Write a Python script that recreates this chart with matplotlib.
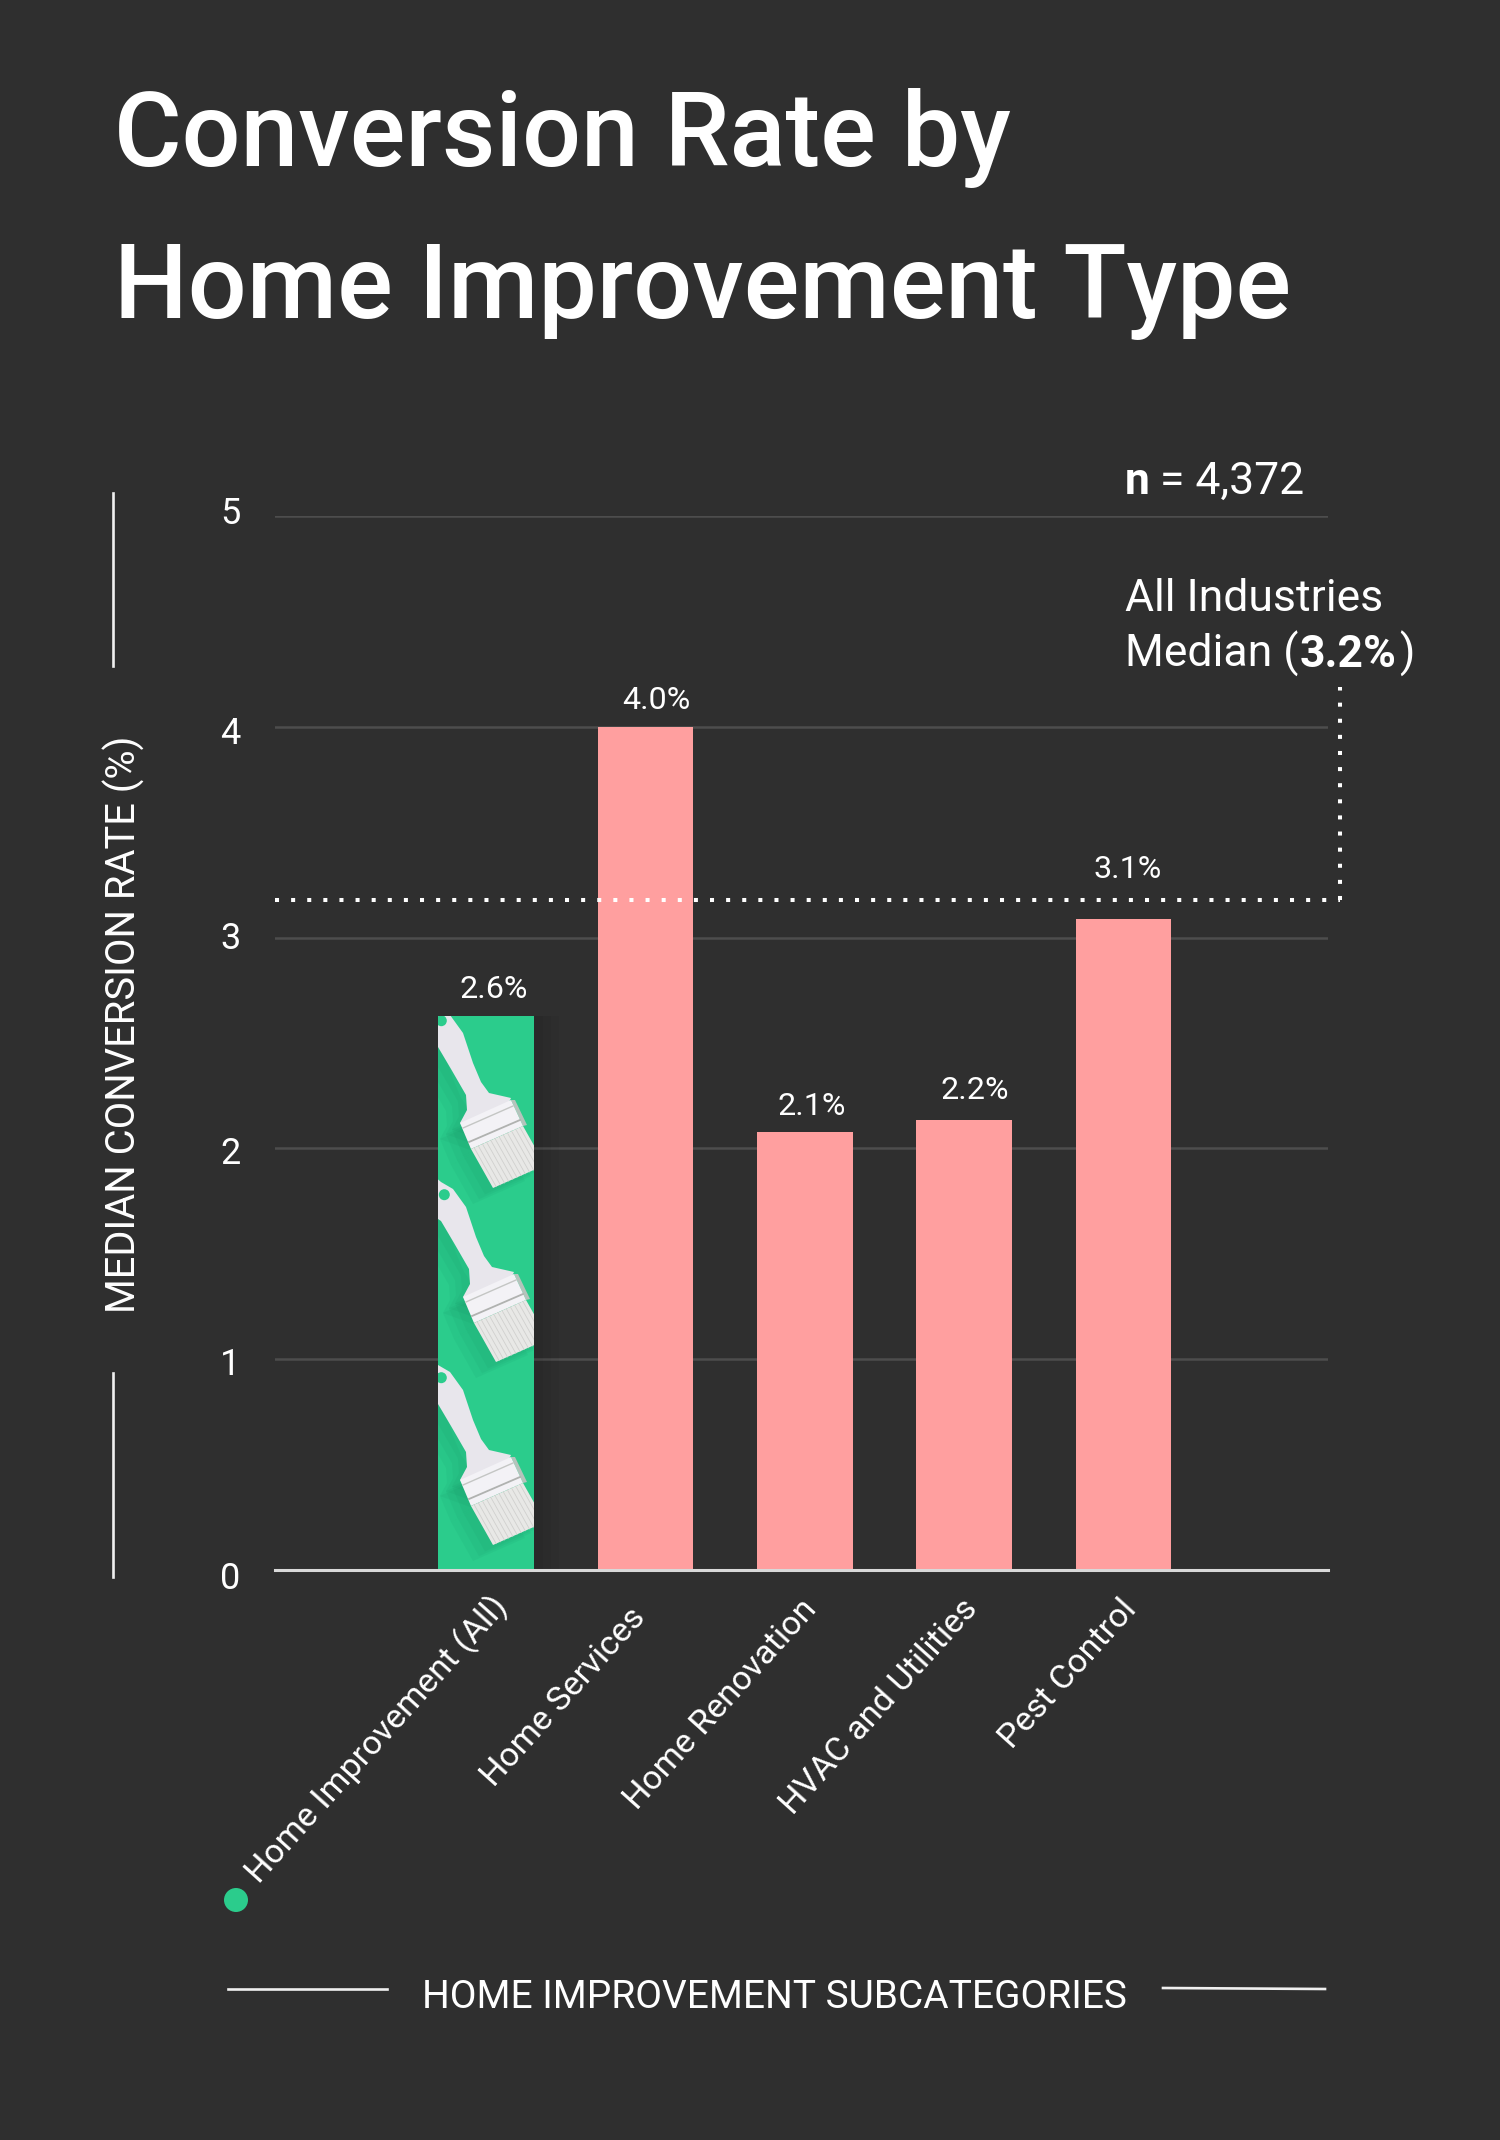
#conversion rate by home improvement type
import matplotlib
matplotlib.use("Agg")
import matplotlib.pyplot as plt
from matplotlib.patches import Polygon, Circle
from matplotlib.transforms import Affine2D
import numpy as np

categories = ["Home Improvement (All)", "Home Services", "Home Renovation", "HVAC and Utilities", "Pest Control"]
values = [2.63, 4.0, 2.08, 2.135, 3.09]
value_labels = ["2.6%", "4.0%", "2.1%", "2.2%", "3.1%"]
yticks = [0, 1, 2, 3, 4, 5]
median_value = 3.18

BG = "#2f2f2f"
GREEN = "#2bcc8c"
PINK = "#ff9f9f"
W, H = 1500, 2140
X0, STEP = 486, 159.4

plt.rcParams["font.family"] = "Roboto"

fig = plt.figure(figsize=(15, 21.4), dpi=100, facecolor=BG)

def fx(x):
    return x / W

def fy(y):
    return 1 - y / H

#main axes, pixel box
ax = fig.add_axes([fx(275), fy(1570), (1328 - 275) / W, (1570 - 516) / H])
ax.patch.set_visible(False)
ax.set_xlim((275 - X0) / STEP, (1328 - X0) / STEP)
ax.set_ylim(0, 5)
for s in ["top", "left", "right"]:
    ax.spines[s].set_visible(False)
ax.spines["bottom"].set_color("#d9d9d9")
ax.spines["bottom"].set_linewidth(2.2)
ax.set_axisbelow(True)
ax.yaxis.grid(True, color="#4d4d4d", linewidth=1.8)
ax.xaxis.grid(False)

x = np.arange(len(categories))
bars = ax.bar(x, values, width=0.6, color=[GREEN] + [PINK] * 4, linewidth=0)

#faint shadow right of the green bar
for wid in [0.06, 0.11, 0.16]:
    ax.bar(0.3 + wid / 2, values[0], width=wid, color="black", alpha=0.03, linewidth=0, zorder=1.5)

#y ticks, hand placed in the original so each gets a small shift
ax.set_yticks(yticks)
ax.set_yticklabels([str(t) for t in yticks], fontsize=26, color="white")
ax.tick_params(axis="y", length=0, pad=25)
y_shift = [5, 2, 2, -3, 3, -6]
for lab, dy in zip(ax.get_yticklabels(), y_shift):
    lab.set_transform(lab.get_transform() + Affine2D().translate(0, -dy))

#x labels
ax.set_xticks(x)
ax.set_xticklabels(categories, fontsize=24.6, color="white", rotation=48, ha="right", va="center", rotation_mode="anchor")
ax.tick_params(axis="x", length=0)
x_shift = [16, -5, 6, 8, 8]
y_drop = [26, 37, 29, 29, 29]
for lab, dx, dy in zip(ax.get_xticklabels(), x_shift, y_drop):
    lab.set_transform(lab.get_transform() + Affine2D().translate(dx, -dy))

#value labels
lab_dx = [8, 11, 7, 11, 4]
lab_dy = [18, 18, 17, 21, 41]
for i, v in enumerate(values):
    ax.annotate(value_labels[i], xy=(i, v), xytext=(lab_dx[i], lab_dy[i]), textcoords="offset pixels",
                ha="center", va="baseline", fontsize=23.2, color="white")

#all industries median line
dots = (0, (1, 3))
xl = ax.get_xlim()
x_end = (1340 - X0) / STEP
ax.plot([xl[0], x_end], [median_value, median_value], color="white", lw=2.9, ls=dots, clip_on=False, zorder=5)
ax.plot([x_end, x_end], [median_value, 4.19], color="white", lw=2.9, ls=dots, clip_on=False, zorder=5)

#overlay in picture pixels for the decoration
ov = fig.add_axes([0, 0, 1, 1])
ov.set_xlim(0, W)
ov.set_ylim(H, 0)
ov.axis("off")

handle = [(-15, -20), (0, -7), (12, 0), (25, 18), (35, 48), (43, 67), (51, 78), (73, 83), (55, 120),
          (22, 108), (29, 95), (28, 80), (13, 54), (0, 32), (-15, 22)]
ferrule = [(22, 108), (73, 85), (85, 111), (33, 134)]
bristles = [(33, 134), (85, 111), (107, 150), (55, 173)]
side = [(73, 85), (77, 85), (89, 110), (85, 111)]

def add_poly(pts, ox, oy, **kw):
    p = Polygon([(a + ox, b + oy) for a, b in pts], closed=True, linewidth=0, **kw)
    ov.add_patch(p)
    p.set_clip_path(bars[0])
    return p

def add_line(p0, p1, ox, oy, **kw):
    l, = ov.plot([p0[0] + ox, p1[0] + ox], [p0[1] + oy, p1[1] + oy], **kw)
    l.set_clip_path(bars[0])

def brush(ox, oy):
    for k in [20, 14, 8]:
        for pts in (handle, ferrule, bristles):
            add_poly(pts, ox - k, oy + k * 0.8, color="#0c7d55", alpha=0.07)
    add_poly(handle, ox, oy, color="#e8e6ec")
    c = Circle((ox + 3.3, oy + 5.7), 5.5, color=GREEN, linewidth=0)
    ov.add_patch(c)
    c.set_clip_path(bars[0])
    add_poly(side, ox, oy, color="#b4c4bc")
    add_poly(ferrule, ox, oy, color="#f3f2f6")
    add_poly(bristles, ox, oy, color="#e8e8e6")
    add_line((25, 113), (75, 91), ox, oy, color="#c4c6c4", lw=1.0)
    add_line((31, 127), (82, 105), ox, oy, color="#b0b2b0", lw=1.3)
    for t in np.linspace(0.06, 0.94, 12):
        s = (33 + 52 * t, 134 - 23 * t)
        e = (55 + 52 * t, 173 - 23 * t)
        add_line(s, e, ox, oy, color="#d0d0ce", lw=0.6)

for ox, oy in [(438, 1015), (441, 1189), (438, 1372)]:
    brush(ox, oy)

#side rules
rule = dict(color="#f0f0f0", lw=1.9)
ov.plot([113, 113], [493, 666], **rule)
ov.plot([113, 113], [1373, 1577], **rule)
ov.plot([228, 387], [1989, 1989], **rule)
ov.plot([1163, 1325], [1988, 1989], **rule)
ov.add_patch(Circle((236, 1900), 12, color=GREEN, linewidth=0))

#titles and notes
title_kw = dict(color="white", fontsize=74.7, va="baseline", ha="left", fontweight="medium")
fig.text(fx(114), fy(166), "Conversion Rate by", **title_kw)
fig.text(fx(114), fy(318), "Home Improvement Type", **title_kw)

fig.text(fx(124), fy(1024), "MEDIAN CONVERSION RATE (%)", color="white", fontsize=28.7, rotation=90, ha="center", va="center")
fig.text(fx(774), fy(2008), "HOME IMPROVEMENT SUBCATEGORIES", color="white", fontsize=28, ha="center", va="baseline")

renderer = fig.canvas.get_renderer()

def runs(px, py, parts, size):
    #parts of regular and bold text on one line
    for s, bold, gap in parts:
        t = fig.text(fx(px), fy(py), s, color="white", fontsize=size, va="baseline", ha="left",
                     fontweight="bold" if bold else "normal")
        px = t.get_window_extent(renderer).x1 + gap

runs(1125, 494, [("n", True, 10), ("= 4,372", False, 0)], 32)
runs(1125, 611, [("All Industries", False, 0)], 32)
runs(1125, 667, [("Median (", False, 1), ("3.2%", True, 3), (")", False, 0)], 32)

fig.savefig("out.png", dpi=100, facecolor=BG)
